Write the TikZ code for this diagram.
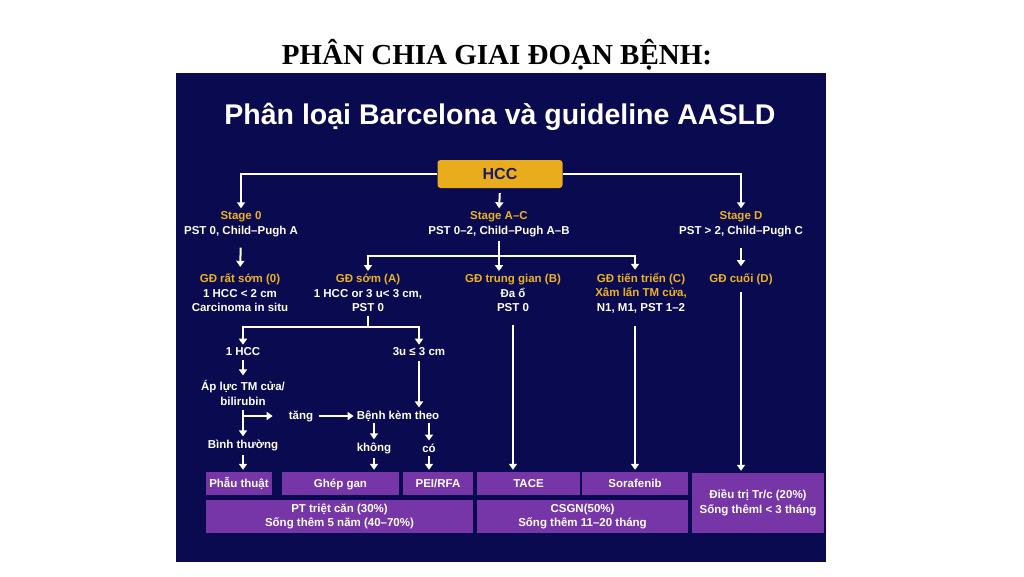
\documentclass[tikz,border=0pt]{standalone}
\usepackage{fontspec}
\setmainfont{Liberation Sans}
\newfontfamily\titlefont{Liberation Serif}
\usetikzlibrary{arrows.meta}
\definecolor{navy}{RGB}{10,10,80}
\definecolor{gold}{RGB}{236,178,36}
\definecolor{hccfill}{RGB}{232,172,28}
\definecolor{hcctext}{RGB}{28,28,100}
\definecolor{boxpurple}{RGB}{118,54,168}

\begin{document}
\begin{tikzpicture}[x=1pt,y=-1pt,
  txt/.style={text=white,font=\bfseries\fontsize{11.5}{14.5}\selectfont,align=center,inner sep=1pt},
  box/.style={fill=boxpurple,text=white,font=\bfseries\fontsize{11.5}{14.5}\selectfont,align=center,inner sep=0pt},
  onebox/.style={box,minimum height=23,text height=8.5pt,text depth=0.5pt},
  ln/.style={draw=white,line width=2pt},
  arr/.style={ln,-{Triangle[length=6pt,width=8pt]},shorten >=2pt}]
\useasboundingbox (0,0) rectangle (1024,576);
\fill[white] (0,0) rectangle (1024,576);
\fill[navy] (176,73) rectangle (826,562);

\path (497,55) node(title)[font=\titlefont\bfseries\fontsize{29}{34}\selectfont]{PHÂN CHIA GIAI ĐOẠN BỆNH:}
 (500,117) node(heading)[text=white,font=\bfseries\fontsize{28.5}{34}\selectfont]{Phân loại Barcelona và guideline AASLD}
 (500,174) node(hcc)[fill=hccfill,rounded corners=3pt,minimum width=125,minimum height=28,text=hcctext,font=\bfseries\fontsize{16}{19}\selectfont]{HCC}
 (241,224) node(stage0)[txt]{\textcolor{gold}{Stage 0}\\PST 0, Child–Pugh A}
 (499,224) node(stageAC)[txt]{\textcolor{gold}{Stage A–C}\\PST 0–2, Child–Pugh A–B}
 (741,224) node(stageD)[txt]{\textcolor{gold}{Stage D}\\PST > 2, Child–Pugh C}
 (240,293) node(gd0)[txt]{\textcolor{gold}{GĐ rất sớm (0)}\\1 HCC < 2 cm\\Carcinoma in situ}
 (368,293) node(gdA)[txt]{\textcolor{gold}{GĐ sớm (A)}\\1 HCC or 3 u< 3 cm,\\PST 0}
 (513,293) node(gdB)[txt]{\textcolor{gold}{GĐ trung gian (B)}\\Đa ổ\\PST 0}
 (641,293) node(gdC)[txt]{\textcolor{gold}{GĐ tiến triển (C)}\\\textcolor{gold}{Xâm lấn TM cửa,}\\N1, M1, PST 1–2}
 (741,279) node(gdD)[txt]{\textcolor{gold}{GĐ cuối (D)}}
 (243,352) node(hcc1)[txt]{1 HCC}
 (419,352) node(u3)[txt]{3u ≤ 3 cm}
 (243,393) node(aplu)[txt]{Áp lực TM cửa/\\bilirubin}
 (301,416) node(tang)[txt]{tăng}
 (398,416) node(benh)[txt]{Bệnh kèm theo}
 (243,445) node(binh)[txt]{Bình thường}
 (374,448) node(khong)[txt]{không}
 (429,448) node(co)[txt]{có}
 (239,483.5) node(phau)[onebox,minimum width=66]{Phẫu thuật}
 (340.5,483.5) node(ghep)[onebox,minimum width=117]{Ghép gan}
 (438,483.5) node(pei)[onebox,minimum width=70]{PEI/RFA}
 (528.5,483.5) node(tace)[onebox,minimum width=103]{TACE}
 (635,483.5) node(sora)[onebox,minimum width=106]{Sorafenib}
 (758,503) node(dieutri)[box,minimum width=132,minimum height=60]{Điều trị Tr/c (20\%)\\Sống thêml < 3 tháng}
 (339.5,516.5) node(ptrc)[box,minimum width=267,minimum height=33]{PT triệt căn (30\%)\\Sống thêm 5 năm (40–70\%)}
 (582.5,516.5) node(csgn)[box,minimum width=211,minimum height=33]{CSGN(50\%)\\Sống thêm 11–20 tháng};

\coordinate (acj) at (499,256);
\coordinate (aj) at (368,327);

\draw[arr] (hcc.west) -| (stage0.north);
\draw[arr] (hcc.east) -| (stageD.north);
\draw[arr,shorten <=5pt] (hcc.south) -- (stageAC.north);
\draw[arr,shorten <=10pt,shorten >=6pt] (stage0.south) -- (gd0.north);
\draw[arr,shorten <=10pt,shorten >=6pt] (stageD.south) -- (gdD.north);
\draw[ln,shorten <=3pt] (stageAC.south) -- (acj);
\draw[arr] (acj) -| (gdA.north);
\draw[arr] (acj) -- (acj |- gdB.north);
\draw[arr] (acj) -| (sora |- gdC.north);
\draw[arr,shorten <=12pt] (gdB.south) -- (gdB.south |- tace.north);
\draw[arr,shorten <=12pt] (sora |- gdC.south) -- (sora.north);
\draw[arr,shorten <=6pt] (gdD.south) -- (gdD.south |- dieutri.north);
\draw[ln,shorten <=3pt] (gdA.south) -- (aj);
\draw[arr] (aj) -| (hcc1.north);
\draw[arr] (aj) -| (u3.north);
\draw[arr,shorten <=3pt,shorten >=4pt] (hcc1.south) -- (aplu.north);
\draw[arr,shorten <=4pt] (u3.south) -- (u3.south |- benh.north);
\draw[arr,shorten <=3pt] (aplu.south) -- (binh.north);
\draw[arr,shorten >=15pt] (aplu.south |- tang) -- (tang.west);
\draw[arr,shorten <=5pt] (tang.east) -- (benh.west);
\draw[arr] (benh.south -| khong) -- (khong.north);
\draw[arr] (benh.south -| co) -- (co.north);
\draw[arr,shorten <=3pt] (binh.south) -- (binh.south |- phau.north);
\draw[arr,shorten <=3pt] (khong.south) -- (khong.south |- ghep.north);
\draw[arr,shorten <=3pt] (co.south) -- (co.south |- pei.north);
\end{tikzpicture}
\end{document}
